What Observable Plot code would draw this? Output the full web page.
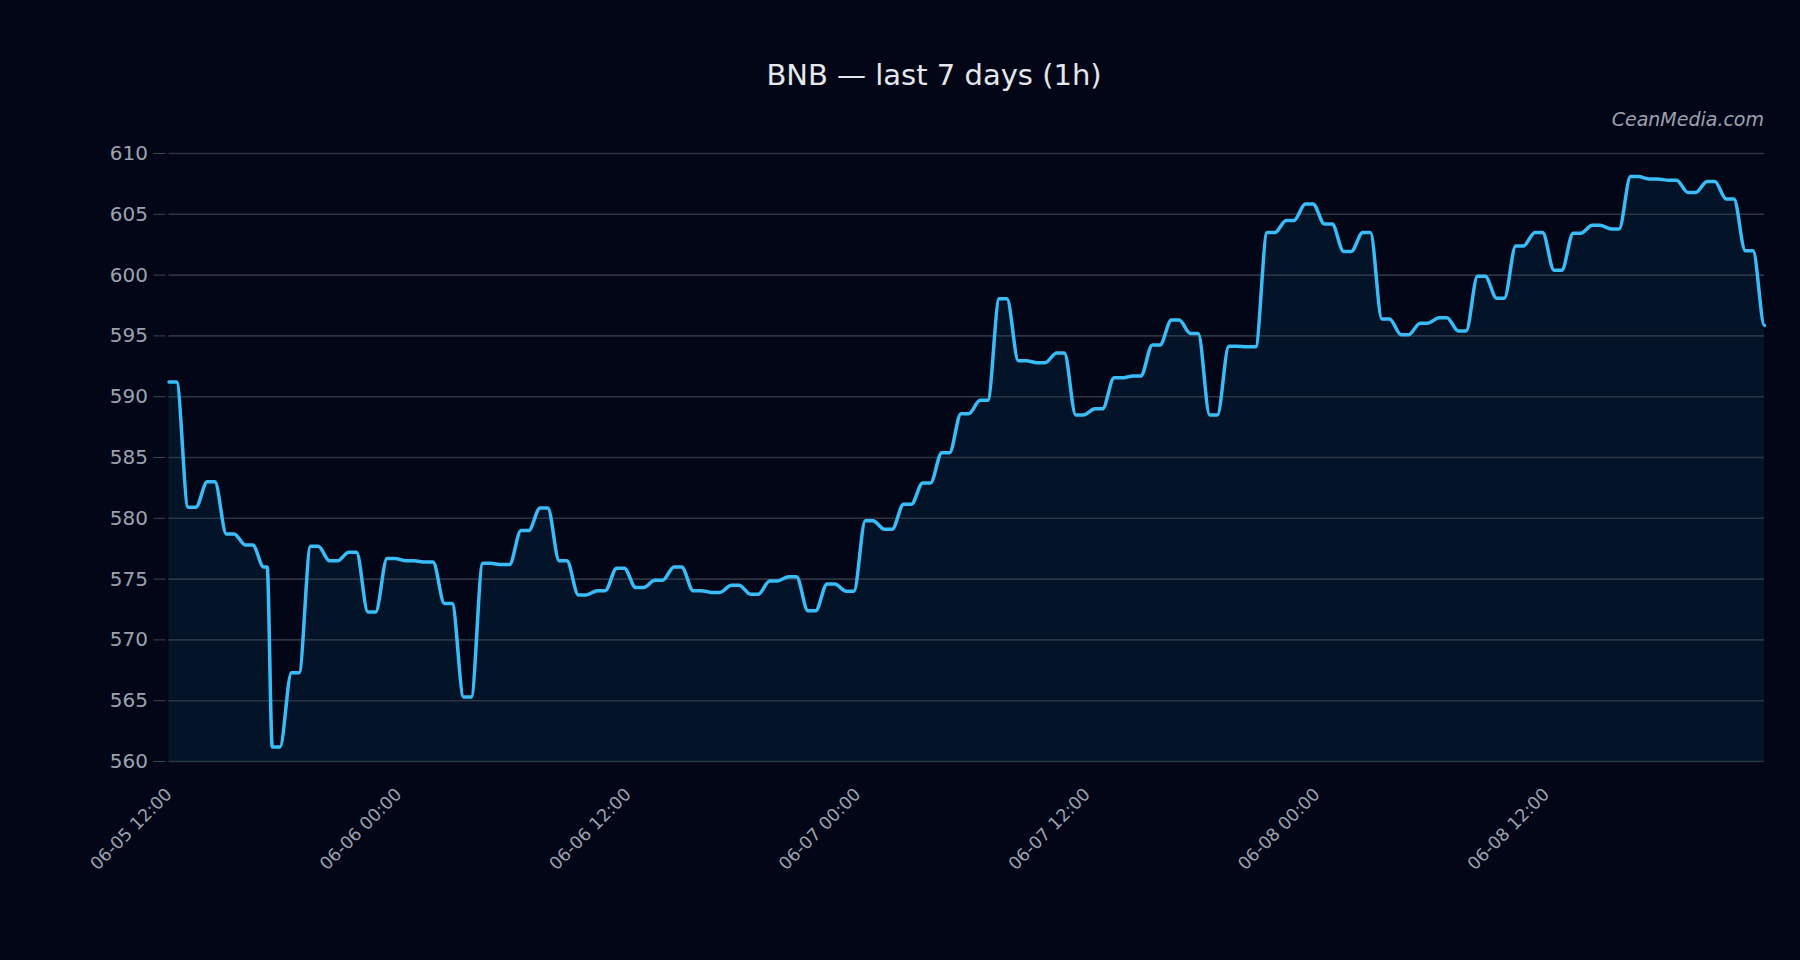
<!DOCTYPE html>
<html>
<head>
<meta charset="utf-8">
<script src="https://cdn.jsdelivr.net/npm/d3@7"></script>
<script src="https://cdn.jsdelivr.net/npm/@observablehq/plot@0.6"></script>
<style>
  html, body { margin: 0; padding: 0; background: #020617; }
  body { width: 1800px; height: 960px; position: relative; overflow: hidden; font-family: "DejaVu Sans", sans-serif; }
  #title { position: absolute; left: 0; width: 1868px; top: 59px; text-align: center; font-size: 29px; line-height: 32px; color: #e5e7eb; }
  #caption { position: absolute; right: 36px; top: 108px; font-size: 19px; line-height: 22px; font-style: italic; color: #9ca3af; }
  #chart { position: absolute; left: 0; top: 130px; }
</style>
</head>
<body>
<div id="title">BNB — last 7 days (1h)</div>
<div id="caption">CeanMedia.com</div>
<div id="chart"></div>
<script>
// BNB prices (USD)
const prices = [
  591.2, 580.9, 583.0, 578.7, 577.8, 576.0, 561.2, 567.3, 577.7, 576.5,
  577.2, 572.3, 576.7, 576.5, 576.4, 573.0, 565.3, 576.3, 576.2, 579.0,
  580.85, 576.5, 573.7, 574.05, 575.9, 574.3, 574.9, 576.0, 574.05, 573.9,
  574.5, 573.75, 574.85, 575.2, 572.4, 574.6, 574.0, 579.8, 579.1, 581.15,
  582.9, 585.4, 588.6, 589.7, 598.05, 592.95, 592.8, 593.6, 588.5, 589.0,
  591.55, 591.7, 594.25, 596.3, 595.2, 588.5, 594.15, 594.1, 603.5, 604.5,
  605.85, 604.2, 601.95, 603.5, 596.4, 595.1, 596.05, 596.5, 595.4, 599.9,
  598.1, 602.4, 603.5, 600.4, 603.45, 604.1, 603.8, 608.1, 607.9, 607.8,
  606.8, 607.7, 606.25, 602.0, 595.85
];
// Sample times: the first samples, then one sample per hour up to the last one
const earlyTimes = [
  "2024-06-05T12:00:00Z", "2024-06-05T13:00:00Z", "2024-06-05T14:00:00Z",
  "2024-06-05T15:00:00Z", "2024-06-05T16:00:00Z", "2024-06-05T16:57:00Z"
];
const hourlyFrom = "2024-06-05T17:24:00Z";
// Axis ticks
const yTicks = [560, 565, 570, 575, 580, 585, 590, 595, 600, 605, 610];
const xTicks = [
  "2024-06-05T12:00:00Z", "2024-06-06T00:00:00Z", "2024-06-06T12:00:00Z",
  "2024-06-07T00:00:00Z", "2024-06-07T12:00:00Z", "2024-06-08T00:00:00Z",
  "2024-06-08T12:00:00Z"
];

const times = earlyTimes.map(s => new Date(s)).concat(
  d3.range(prices.length - earlyTimes.length).map(i => d3.utcHour.offset(new Date(hourlyFrom), i))
);
const data = prices.map((v, i) => ({t: times[i], v}));
const xTickDates = xTicks.map(s => new Date(s));

// Curve: hold each value for part of the interval, then ease (smoothstep) into the next value
const HOLD = 0.4;
function HoldCurve(context) { this._context = context; }
HoldCurve.prototype = {
  areaStart() { this._line = 0; },
  areaEnd() { this._line = NaN; },
  lineStart() { this._point = 0; },
  lineEnd() {
    if (this._line || (this._line !== 0 && this._point === 1)) this._context.closePath();
    this._line = 1 - this._line;
  },
  point(x, y) {
    x = +x; y = +y;
    const c = this._context;
    if (this._point === 0) {
      this._point = 1;
      this._line ? c.lineTo(x, y) : c.moveTo(x, y);
    } else {
      this._point = 2;
      const x0 = this._x0, y0 = this._y0;
      if (x >= x0) {
        const a = x0 + HOLD * (x - x0), d = (x - a) / 3;
        c.lineTo(a, y0);
        c.bezierCurveTo(a + d, y0, x - d, y, x, y);
      } else {
        const a = x + HOLD * (x0 - x), d = (x0 - a) / 3;
        c.bezierCurveTo(x0 - d, y0, a + d, y, a, y);
        c.lineTo(x, y);
      }
    }
    this._x0 = x; this._y0 = y;
  }
};
const holdCurve = context => new HoldCurve(context);

const chart = Plot.plot({
  width: 1800,
  height: 830,
  marginLeft: 168.5,
  marginRight: 36,
  marginTop: 23,
  marginBottom: 199,
  style: {background: "transparent", color: "#9ca3af", fontSize: "20px", fontFamily: "'DejaVu Sans', sans-serif"},
  x: {type: "utc"},
  y: {domain: [560, 610]},
  marks: [
    Plot.areaY(data, {x: "t", y1: 560, y2: "v", curve: holdCurve, fill: "#041428"}),
    Plot.gridY(yTicks, {stroke: "#2b3544", strokeOpacity: 1, strokeWidth: 1.6}),
    Plot.lineY(data, {x: "t", y: "v", curve: holdCurve, stroke: "#38bdf8", strokeWidth: 3.5}),
    Plot.axisY(yTicks, {tickSize: 12, tickPadding: 6, dx: -3, stroke: "#3a4555", fill: "#9ca3af", label: null}),
    Plot.axisX(xTickDates, {tickRotate: -45, tickSize: 0, tickPadding: 30, fontSize: 17.5, fill: "#9ca3af", tickFormat: d3.utcFormat("%m-%d %H:%M"), label: null})
  ]
});
document.getElementById("chart").append(chart);
</script>
</body>
</html>
